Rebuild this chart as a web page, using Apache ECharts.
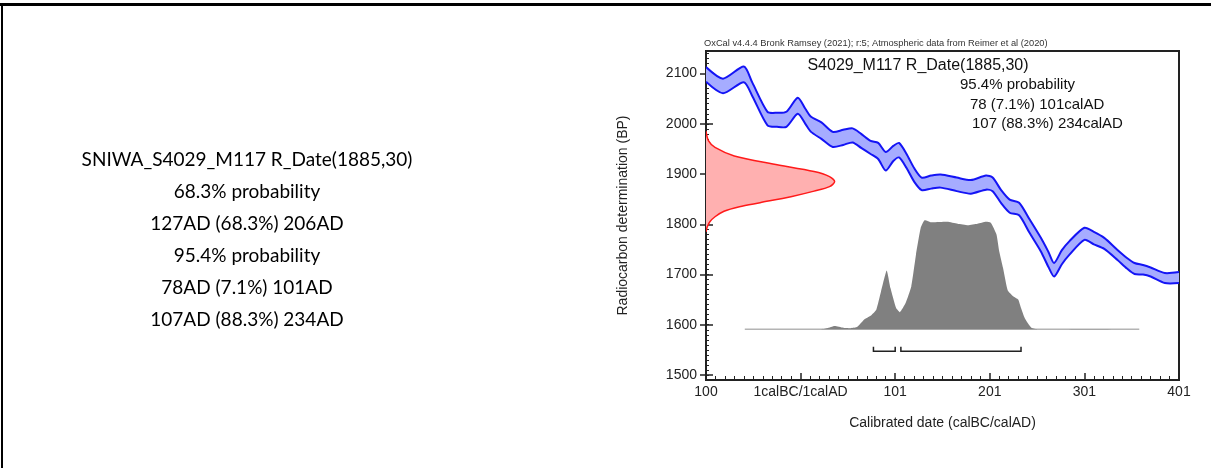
<!DOCTYPE html>
<html><head><meta charset="utf-8">
<script src="https://cdn.jsdelivr.net/npm/echarts@6/dist/echarts.min.js"></script>
<style>html,body{margin:0;padding:0;background:#fff}#c{width:1211px;height:468px}</style>
</head><body><div id="c"></div>
<script>
// x value: 0 = 1calBC/1calAD boundary (value = AD year - 1)
const xTickValues = [-100, 0, 100, 200, 300, 400];
const xTickLabels = ['100', '1calBC/1calAD', '101', '201', '301', '401'];
const yTickValues = [1500, 1600, 1700, 1800, 1900, 2000, 2100];

// calibration curve band (BP)
const calYears = [-100,-82,-60,-51,-35,-25,-15,-3,5,11,22,34,45,55,64,74,82,90,98,104,112,120,128,138,148,165,180,196,203,212,221,231,242,254,262,268,276,284,300,310,321,335,345,353,362,370,385,400];
const calUpper = [2113,2090,2114,2082,2024,2022,2024,2052,2030,2014,2003,1984,1988,1991,1980,1966,1962,1944,1956,1962,1940,1912,1893,1897,1899,1893,1888,1897,1893,1868,1849,1843,1810,1773,1745,1723,1748,1766,1793,1785,1773,1749,1733,1723,1719,1714,1703,1705];
const calLower = [2084,2061,2083,2055,1997,1994,1994,2020,2000,1984,1970,1954,1958,1963,1952,1940,1930,1907,1926,1933,1912,1885,1868,1871,1873,1866,1861,1869,1866,1842,1823,1818,1783,1746,1715,1696,1720,1739,1769,1760,1751,1729,1712,1701,1700,1696,1683,1683];

// radiocarbon determination R_Date(1885,30): relative density by BP
const rDateBP = [1785,1795,1805,1815,1826,1835,1843,1855,1866,1875,1885,1895,1905,1920,1936,1953,1966,1985];
const rDateDensity = [0,0.01,0.03,0.07,0.14,0.26,0.42,0.66,0.84,0.96,1,0.96,0.84,0.52,0.22,0.07,0.02,0];

// calibrated posterior: relative probability by year
const postYears = [-59,20,28,36,45,53,60,67,74,80,85,91,95,101,105,111,117,122,127,131,138,155,166,177,187,196,201,207,210,214,219,225,230,233,237,244,251,300,358];
const postProb = [0,0,0.01,0.03,0.014,0.01,0.023,0.088,0.124,0.18,0.346,0.54,0.378,0.194,0.157,0.24,0.392,0.687,0.931,1,0.982,0.986,0.968,0.954,0.968,0.986,0.977,0.871,0.714,0.562,0.355,0.30,0.272,0.194,0.101,0.014,0,0.003,0];

// 95.4% ranges (axis values)
const ranges95 = [[77, 100], [106, 233]];

const leftLines = ['SNIWA_S4029_M117 R_Date(1885,30)','68.3% probability','127AD (68.3%) 206AD','95.4% probability','78AD (7.1%) 101AD','107AD (88.3%) 234AD'];
const headerText = 'OxCal v4.4.4 Bronk Ramsey (2021); r:5; Atmospheric data from Reimer et al (2020)';
const titleText = 'S4029_M117 R_Date(1885,30)';
const rightLines = ['95.4% probability','78 (7.1%) 101calAD','107 (88.3%) 234calAD'];
const xName = 'Calibrated date (calBC/calAD)';
const yName = 'Radiocarbon determination (BP)';

// layout constants
const RED_WIDTH = 136;
const POST_BASE = 1591;
const POST_HEIGHT = 217;
const BRACKET_Y = 1547, BRACKET_TICK = 9;
const X_MIN = -100, X_MAX = 400, Y_MIN = 1490, Y_MAX = 2145;
const FONT = '"Liberation Sans", Arial, sans-serif';
const AX = '#222';

const chart = echarts.init(document.getElementById('c'));

function one(renderItem, z) {
  return {type: 'custom', coordinateSystem: 'cartesian2d', xAxisIndex: 0, yAxisIndex: 0,
    data: [[0, Y_MIN]], silent: true, clip: true, z: z, renderItem: renderItem, animation: false};
}

const graphics = [
  {type: 'rect', left: 0, top: 3, shape: {width: 1211, height: 3}, style: {fill: '#000'}},
  {type: 'rect', left: 1, top: 3, shape: {width: 2, height: 465}, style: {fill: '#000'}},
  {type: 'text', left: 704, top: 39, style: {text: headerText, font: '9.3px ' + FONT, fill: '#333'}},
  {type: 'text', x: 918, y: 66, style: {text: titleText, font: '16px ' + FONT, fill: '#111', textAlign: 'center', textVerticalAlign: 'middle'}},
];
rightLines.forEach((s, i) => {
  graphics.push({type: 'text', x: [960, 970, 972][i], y: 85 + i * 19.5,
    style: {text: s, font: '15px ' + FONT, fill: '#111', textAlign: 'left', textVerticalAlign: 'middle'}});
});
leftLines.forEach((s, i) => {
  graphics.push({type: 'text', x: 247, y: 160 + i * 32,
    style: {text: s, font: '19px Lato, "Open Sans", sans-serif', fill: '#000', textAlign: 'center', textVerticalAlign: 'middle'}});
});

const baseY = {
  type: 'value', min: Y_MIN, max: Y_MAX, position: 'left',
  splitLine: {show: false}, axisLabel: {show: false},
  axisLine: {show: false, onZero: false}
};

chart.setOption({
  animation: false,
  grid: {left: 706, top: 51, width: 473, height: 329, show: true, borderColor: AX, borderWidth: 2, containLabel: false},
  xAxis: [{
    type: 'value', min: X_MIN, max: X_MAX, interval: 100,
    axisLine: {show: true, onZero: false, lineStyle: {color: AX, width: 2}},
    axisTick: {show: true, inside: true, length: 7, lineStyle: {color: AX, width: 1.5}},
    minorTick: {show: true, splitNumber: 10, length: 4, lineStyle: {color: AX, width: 1}},
    splitLine: {show: false},
    axisLabel: {margin: 5, fontSize: 14, fontFamily: FONT, color: '#222',
      formatter: v => { const i = xTickValues.indexOf(v); return i >= 0 ? xTickLabels[i] : ''; }},
    name: xName, nameLocation: 'middle', nameGap: 36,
    nameTextStyle: {fontSize: 14, fontFamily: FONT, color: '#222'}
  }],
  yAxis: [
    Object.assign({}, baseY, {
      axisLine: {show: true, onZero: false, lineStyle: {color: AX, width: 2}},
      axisTick: {show: true, inside: false, length: 6, customValues: yTickValues, lineStyle: {color: AX, width: 1.5}},
      axisLabel: {show: true, margin: 9, fontSize: 14, fontFamily: FONT, color: '#222', customValues: yTickValues,
        formatter: v => String(v)},
      name: yName, nameLocation: 'middle', nameGap: 76, nameRotate: 90,
      nameTextStyle: {fontSize: 14, fontFamily: FONT, color: '#222'}
    }),
    Object.assign({}, baseY, {
      axisTick: {show: true, inside: true, length: 7, customValues: yTickValues, lineStyle: {color: AX, width: 1.5}}
    }),
    Object.assign({}, baseY, {
      interval: 10,
      axisTick: {show: true, inside: true, length: 3, lineStyle: {color: AX, width: 1}}
    })
  ],
  graphic: graphics,
  series: [
    one((params, api) => {
      const up = calYears.map((t, i) => api.coord([t, calUpper[i]]));
      const lo = calYears.map((t, i) => api.coord([t, calLower[i]]));
      return {type: 'group', children: [
        {type: 'polygon', shape: {points: up.concat(lo.slice().reverse()), smooth: 0.25}, style: {fill: '#a6acff'}},
        {type: 'polyline', shape: {points: up, smooth: 0.25}, style: {stroke: '#1414f5', lineWidth: 2, fill: null}},
        {type: 'polyline', shape: {points: lo, smooth: 0.25}, style: {stroke: '#1414f5', lineWidth: 2, fill: null}}
      ]};
    }, 2),
    one((params, api) => {
      const pts = rDateBP.map((b, i) => api.coord([X_MIN + rDateDensity[i] * RED_WIDTH, b]));
      return {type: 'group', children: [
        {type: 'polygon', shape: {points: pts, smooth: 0.3}, style: {fill: '#ffb0b0'}},
        {type: 'polyline', shape: {points: pts, smooth: 0.3}, style: {stroke: '#ff1a1a', lineWidth: 1.5, fill: null}}
      ]};
    }, 3),
    one((params, api) => {
      const pts = postYears.map((t, i) => api.coord([t, POST_BASE + postProb[i] * POST_HEIGHT]));
      const a = api.coord([postYears[0], POST_BASE]);
      const b = api.coord([postYears[postYears.length - 1], POST_BASE]);
      return {type: 'group', children: [
        {type: 'polyline', shape: {points: [a, b]}, style: {stroke: '#b4b4b4', lineWidth: 1.5, fill: null}},
        {type: 'polygon', shape: {points: pts.concat([b, a]), smooth: 0.15}, style: {fill: '#808080'}}
      ]};
    }, 3),
    one((params, api) => {
      return {type: 'group', children: ranges95.map(r => ({
        type: 'polyline',
        shape: {points: [api.coord([r[0], BRACKET_Y + BRACKET_TICK]), api.coord([r[0], BRACKET_Y]),
                         api.coord([r[1], BRACKET_Y]), api.coord([r[1], BRACKET_Y + BRACKET_TICK])]},
        style: {stroke: '#222', lineWidth: 1.5, fill: null}
      }))};
    }, 4)
  ]
});
</script>
</body></html>
